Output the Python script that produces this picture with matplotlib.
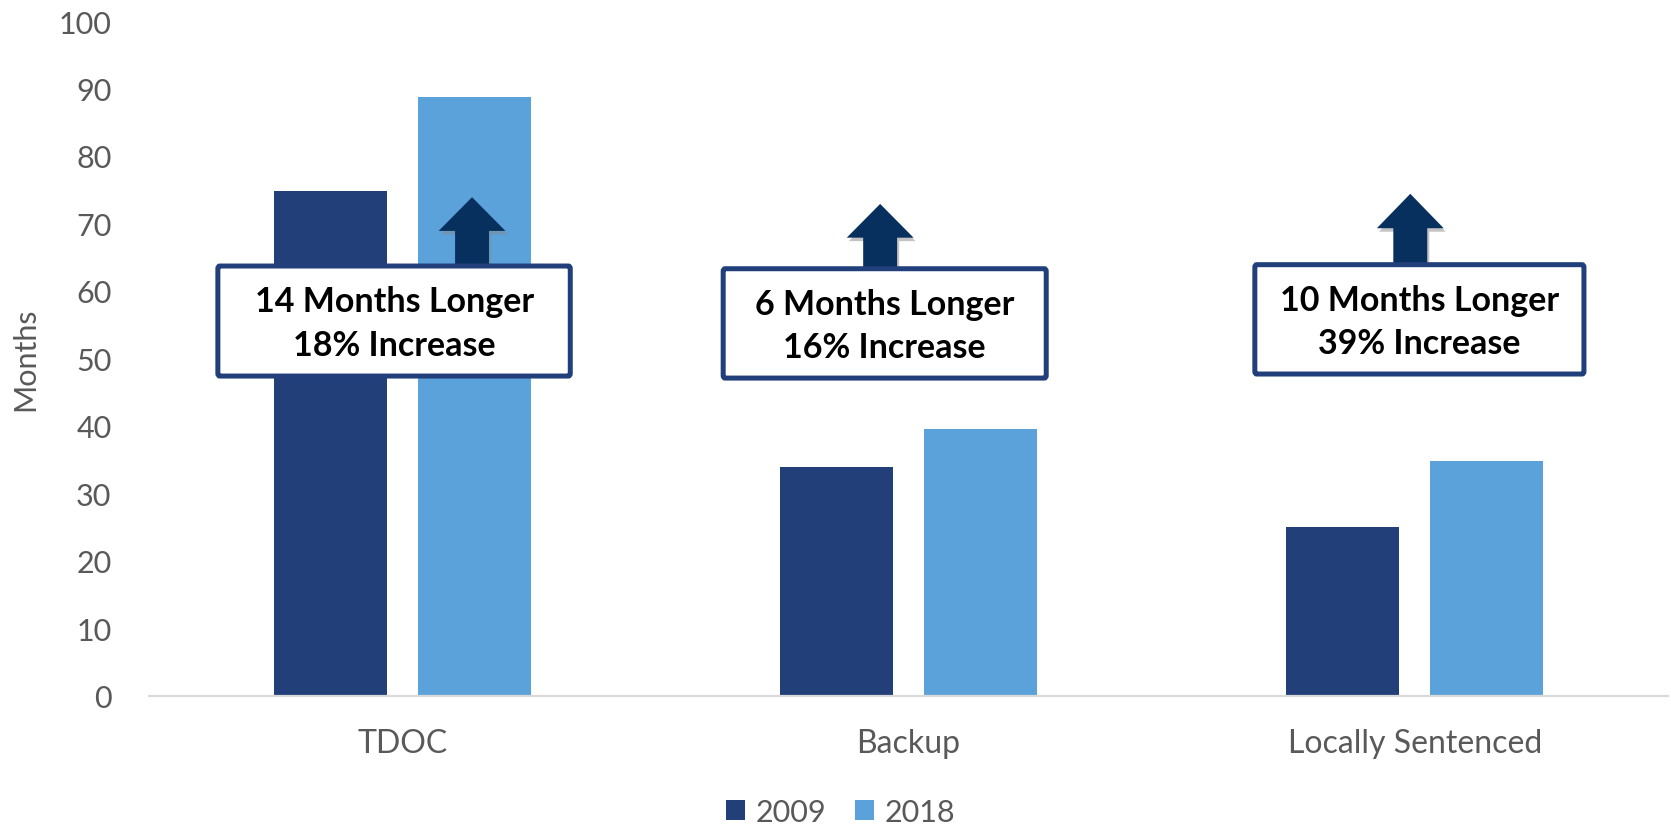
import matplotlib
matplotlib.use("Agg")
import matplotlib.pyplot as plt
import numpy as np
from matplotlib.patches import FancyBboxPatch, Polygon
import matplotlib.patheffects as pe

categories = ["TDOC", "Backup", "Locally Sentenced"]
series_names = ["2009", "2018"]
values_2009 = [74.8, 34, 25]
values_2018 = [88.7, 39.5, 34.8]
callout_lines_1 = ["14 Months Longer", "6 Months Longer", "10 Months Longer"]
callout_lines_2 = ["18% Increase", "16% Increase", "39% Increase"]
yticks = [0, 10, 20, 30, 40, 50, 60, 70, 80, 90, 100]

DARK = "#223F7A"
LIGHT = "#5BA2DB"
ARROW = "#07305E"
GRAY = "#595959"

plt.rcParams['font.family'] = ['Lato', 'DejaVu Sans']

fig = plt.figure(figsize=(16.71, 8.29), dpi=100)
ax = fig.add_axes([149/1671, 1-697/829, 1519/1671, 675/829])

x = np.arange(len(categories))
bw = 0.223
off = 0.142
ax.bar(x - off, values_2009, bw, color=DARK, label=series_names[0], zorder=2)
ax.bar(x + off, values_2018, bw, color=LIGHT, label=series_names[1], zorder=2)

ax.set_xlim(-0.5, len(categories) - 0.5)
ax.set_ylim(0, 100)
ax.set_yticks(yticks)
ax.set_xticks(x)
ax.set_xticklabels(categories)
for s in ["top", "right", "left"]:
    ax.spines[s].set_visible(False)
ax.spines["bottom"].set_color("#D9D9D9")
ax.spines["bottom"].set_linewidth(1.6)
ax.tick_params(axis="y", length=0, pad=27, labelsize=22, labelcolor=GRAY)
ax.tick_params(axis="x", length=0, pad=23, labelsize=23, labelcolor=GRAY)
ax.set_ylabel("Months", fontsize=22, color=GRAY)
ax.yaxis.set_label_coords(-0.072, 0.5)

# callout boxes (x range, y range in data units) and arrows
boxes = [(-0.364, 0.332, 47.4, 63.7), (0.634, 1.272, 47.1, 63.3), (1.684, 2.334, 47.7, 63.9)]
arrows = [(0.138, 73.9, 68.9), (0.944, 72.9, 67.9), (1.991, 74.4, 69.3)]
shaft_w = 0.067
head_w = 0.132
for i in range(len(categories)):
    x0, x1, y0, y1 = boxes[i]
    ax_x, tip, base = arrows[i]
    poly = Polygon([
        (ax_x - shaft_w/2, y1), (ax_x - shaft_w/2, base), (ax_x - head_w/2, base),
        (ax_x, tip), (ax_x + head_w/2, base), (ax_x + shaft_w/2, base), (ax_x + shaft_w/2, y1)],
        closed=True, facecolor=ARROW, edgecolor="none", zorder=4,
        path_effects=[pe.SimplePatchShadow(offset=(1.5, -2.5), shadow_rgbFace="#888888", alpha=0.5), pe.Normal()])
    ax.add_patch(poly)
    box = FancyBboxPatch((x0, y0), x1 - x0, y1 - y0,
                         boxstyle="round,pad=0,rounding_size=0.004",
                         facecolor="white", edgecolor="#213F7B", linewidth=3.6, zorder=5,
                         mutation_aspect=100)
    ax.add_patch(box)
    ax.text((x0 + x1)/2, (y0 + y1)/2 - 0.3, callout_lines_1[i] + "\n" + callout_lines_2[i],
            ha="center", va="center", fontsize=24.5, fontweight="bold", color="black",
            linespacing=1.45, zorder=6)

leg = fig.legend(loc="center", bbox_to_anchor=(0.503, 1-813/829), ncol=2, frameon=False,
                 fontsize=22, handlelength=0.62, handleheight=0.62, handletextpad=0.35,
                 columnspacing=0.95, borderaxespad=0)
for t in leg.get_texts():
    t.set_color(GRAY)

fig.savefig("out.png", dpi=100)
